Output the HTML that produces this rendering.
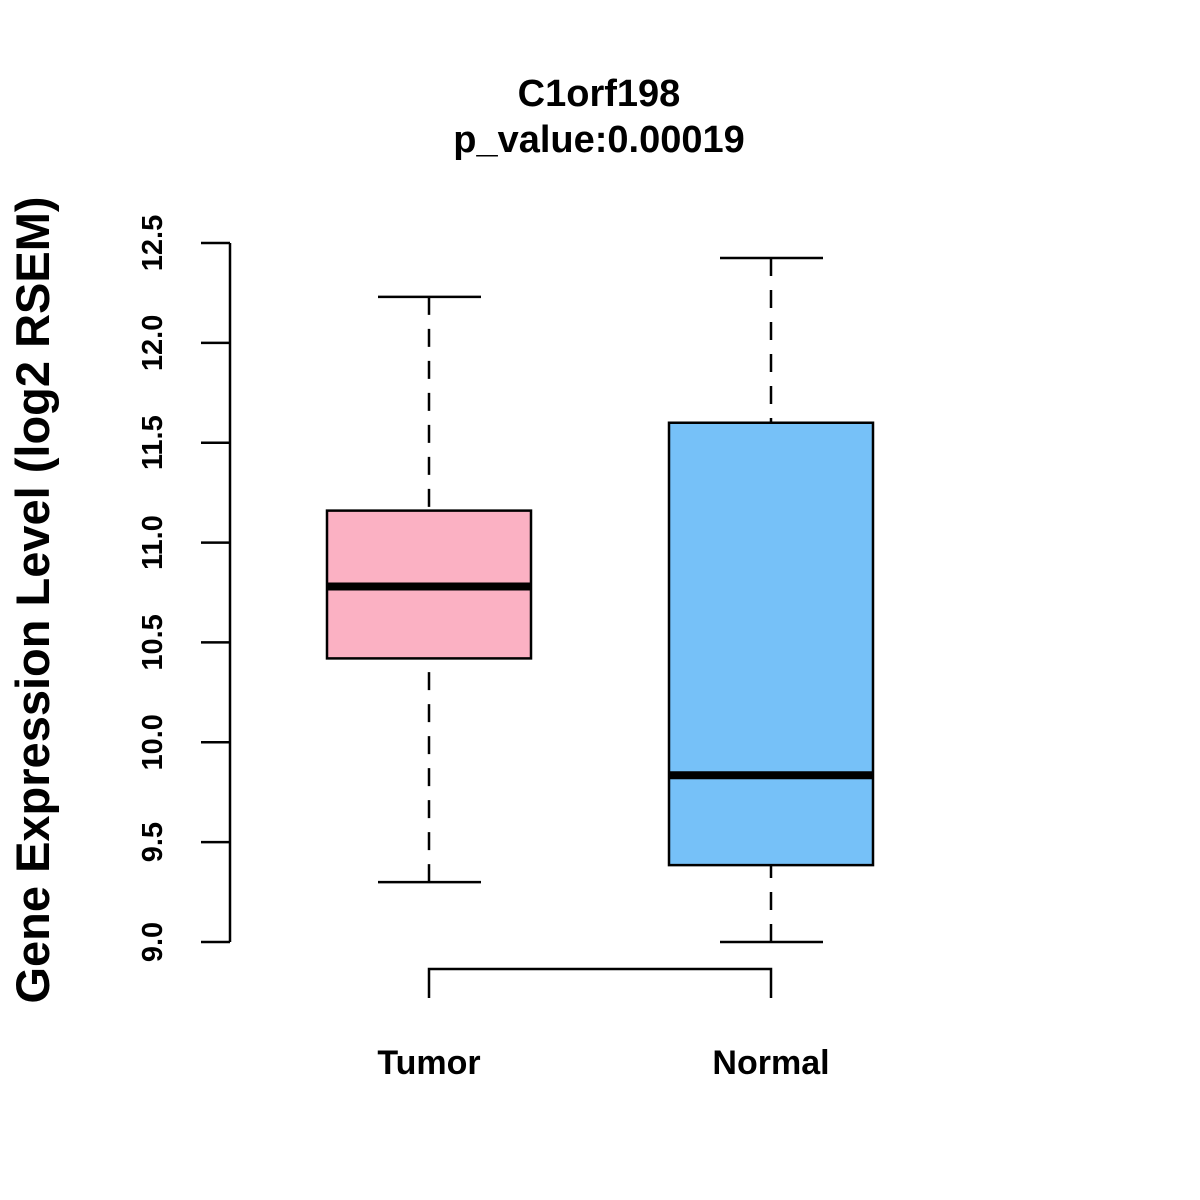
<!DOCTYPE html>
<html><head><meta charset="utf-8"><style>body{margin:0;background:#fff}svg{display:block}text{font-family:"Liberation Sans",Arial,sans-serif;font-weight:bold;fill:#000}</style></head>
<body>
<svg id="chart" width="1200" height="1200" viewBox="0 0 1200 1200">
<text x="599" y="106" font-size="38" text-anchor="middle">C1orf198</text>
<text x="599" y="152" font-size="38" text-anchor="middle">p_value:0.00019</text>
<text transform="translate(49,600) rotate(-90)" font-size="47" text-anchor="middle">Gene Expression Level (log2 RSEM)</text>
<g id="axis"></g>
<g id="boxes"></g>
<g id="bracket"></g>
</svg>
<script>
const categories = ["Tumor","Normal"];
const whiskerLow = [9.30, 9.00];
const q1 = [10.42, 9.385];
const median = [10.78, 9.835];
const q3 = [11.16, 11.60];
const whiskerHigh = [12.23, 12.425];
const colors = ["#FBB1C3","#76C1F8"];
const ticks = [9.0,9.5,10.0,10.5,11.0,11.5,12.0,12.5];
const tickLabels = ["9.0","9.5","10.0","10.5","11.0","11.5","12.0","12.5"];

const NS="http://www.w3.org/2000/svg";
function y(v){return 942-(v-9)*(699/3.5);}
function x(i){return 429+i*342;}
function mk(tag,attrs,parent){const e=document.createElementNS(NS,tag);for(const k in attrs)e.setAttribute(k,attrs[k]);parent.appendChild(e);return e;}
const ax=document.getElementById('axis');
mk('line',{x1:230,x2:230,y1:y(ticks[0]),y2:y(ticks[ticks.length-1]),stroke:'#000','stroke-width':2.5},ax);
ticks.forEach((t,i)=>{
  const l=mk('line',{x1:201,x2:230,y1:y(t),y2:y(t),stroke:'#000','stroke-width':2.5},ax);
  
  
  const tx=mk('text',{transform:`translate(162,${y(t)}) rotate(-90)`,'font-size':29,'text-anchor':'middle'},ax);
  tx.textContent=tickLabels[i];
  
  
});
const bx=document.getElementById('boxes');
categories.forEach((c,i)=>{
  const cx=x(i);
  const g=mk('g',{},bx);
  
  
  mk('line',{x1:cx,x2:cx,y1:y(whiskerHigh[i]),y2:y(q3[i]),stroke:'#000','stroke-width':2.5,'stroke-dasharray':'18,14'},g);
  mk('line',{x1:cx,x2:cx,y1:y(whiskerLow[i]),y2:y(q1[i]),stroke:'#000','stroke-width':2.5,'stroke-dasharray':'18,14'},g);
  mk('line',{x1:cx-51,x2:cx+52,y1:y(whiskerHigh[i]),y2:y(whiskerHigh[i]),stroke:'#000','stroke-width':2.5},g);
  mk('line',{x1:cx-51,x2:cx+52,y1:y(whiskerLow[i]),y2:y(whiskerLow[i]),stroke:'#000','stroke-width':2.5},g);
  mk('rect',{x:cx-102,y:y(q3[i]),width:204,height:y(q1[i])-y(q3[i]),fill:colors[i],stroke:'#000','stroke-width':2.5},g);
  mk('line',{x1:cx-102,x2:cx+102,y1:y(median[i]),y2:y(median[i]),stroke:'#000','stroke-width':8},g);
  const t=mk('text',{x:cx,y:1074,'font-size':34,'text-anchor':'middle'},bx);
  t.textContent=c;
  
  
});
const br=document.getElementById('bracket');
mk('polyline',{points:`${x(0)},998 ${x(0)},969 ${x(1)},969 ${x(1)},998`,fill:'none',stroke:'#000','stroke-width':2.5},br);
</script>
</body></html>
